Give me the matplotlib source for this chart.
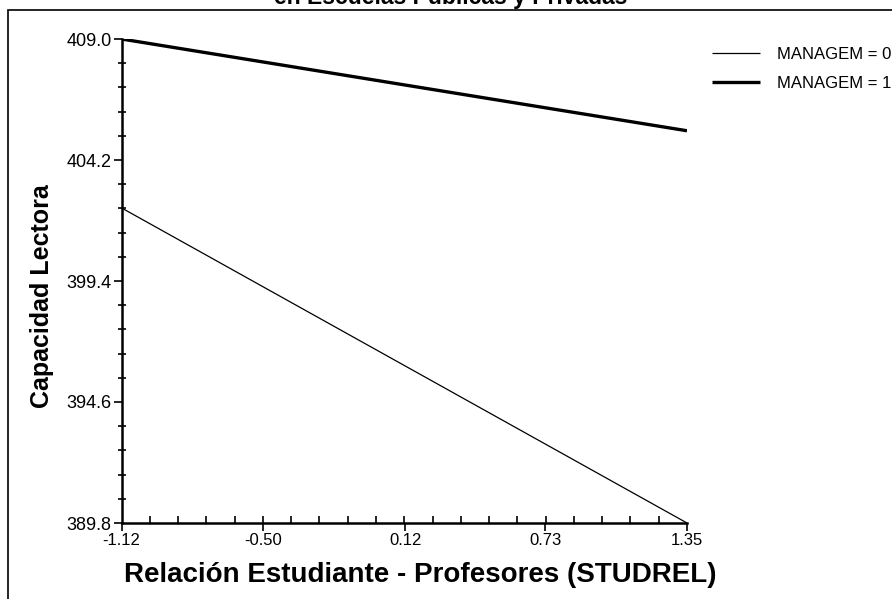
import matplotlib
matplotlib.use("Agg")
from matplotlib import pyplot as plt
from matplotlib.patches import Rectangle
from matplotlib.ticker import FixedLocator
import numpy as np

# datos
studrel = [-1.12, 1.35]
managem_0 = [402.3, 389.8]
managem_1 = [409.0, 405.36]
series_labels = ["MANAGEM = 0", "MANAGEM = 1"]
x_ticks = [-1.12, -0.50, 0.12, 0.73, 1.35]
y_ticks = [389.8, 394.6, 399.4, 404.2, 409.0]

plt.rcParams["font.family"] = ["Liberation Sans", "DejaVu Sans"]

W, H = 892, 599
x0, x1, y0, y1 = 121.5, 687, 523, 39   # caja de ejes en pixeles
fig = plt.figure(figsize=(W / 100, H / 100), dpi=100)
ax = fig.add_axes([x0 / W, 1 - y0 / H, (x1 - x0) / W, (y0 - y1) / H])

# marco exterior (solo se ven los bordes superior e izquierdo)
fig.patches.append(Rectangle((8 / W, -0.1), 1.2, 1 - 10 / H + 0.1, transform=fig.transFigure,
                             fill=False, edgecolor="black", linewidth=1.2))

l0, = ax.plot(studrel, managem_0, color="black", linewidth=0.9, solid_capstyle="butt")
l1, = ax.plot(studrel, managem_1, color="black", linewidth=2.4, solid_capstyle="butt")

ax.set_xlim(x_ticks[0], x_ticks[-1])
ax.set_ylim(y_ticks[0], y_ticks[-1])
for s in ["top", "right"]:
    ax.spines[s].set_visible(False)
for s in ["left", "bottom"]:
    ax.spines[s].set_linewidth(1.8)

ax.xaxis.set_major_locator(FixedLocator(x_ticks))
ax.xaxis.set_minor_locator(FixedLocator(np.linspace(x_ticks[0], x_ticks[-1], 21)))
ax.set_xticklabels([f"{v:.2f}" for v in x_ticks])
ax.yaxis.set_major_locator(FixedLocator(y_ticks))
ax.yaxis.set_minor_locator(FixedLocator(np.linspace(y_ticks[0], y_ticks[-1], 21)))
ax.set_yticklabels([f"{v:.1f}" for v in y_ticks])

ax.tick_params(axis="x", which="major", direction="out", length=6, width=1.2, pad=1, labelsize=12)
ax.tick_params(axis="x", which="minor", direction="in", length=5, width=1.2)
ax.tick_params(axis="y", which="major", direction="out", length=6, width=1.2, pad=1, labelsize=13)
ax.tick_params(axis="y", which="minor", direction="inout", length=6, width=1.2)

ax.set_xlabel("Relación Estudiante - Profesores (STUDREL)", fontsize=20, fontweight="bold")
ax.xaxis.set_label_coords((420 - x0) / (x1 - x0), (y0 - 562) / (y0 - y1))
ax.set_ylabel("Capacidad Lectora", fontsize=18, fontweight="bold")
ax.yaxis.set_label_coords((54 - x0) / (x1 - x0), (y0 - 296) / (y0 - y1))

fig.text(451 / W, 1 - 4 / H, "en Escuelas Públicas y Privadas", ha="center", va="baseline",
         fontsize=16.5, fontweight="bold")

fig.legend([l0, l1], series_labels, loc="upper left", bbox_to_anchor=(697 / W, 1 - 32 / H),
           frameon=False, fontsize=12, handlelength=2.9, handletextpad=1.0, labelspacing=0.85)

fig.savefig("out.png", dpi=100)
